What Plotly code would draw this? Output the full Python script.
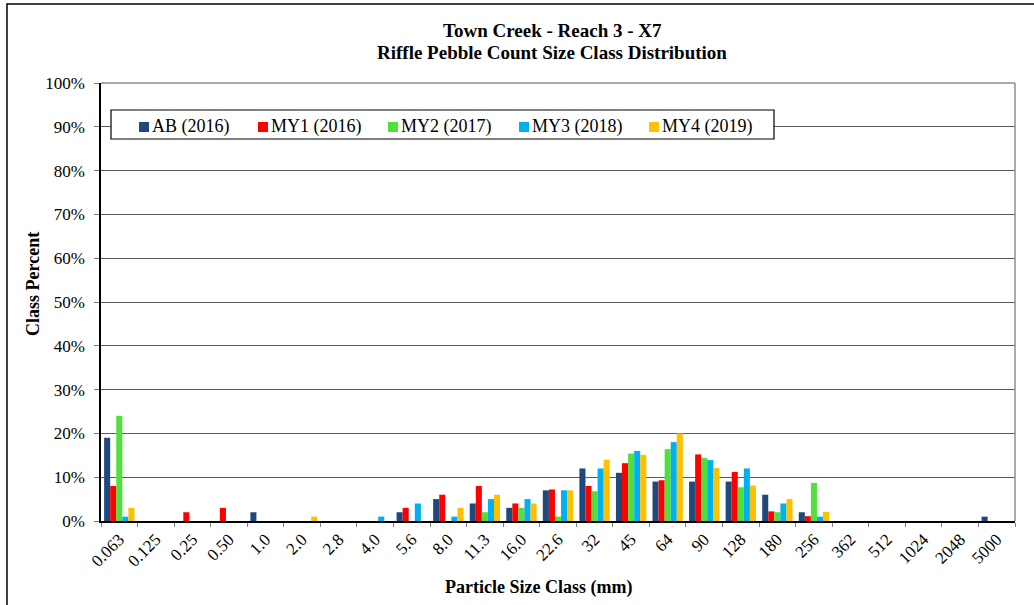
import plotly.graph_objects as go

categories = ["0.063", "0.125", "0.25", "0.50", "1.0", "2.0", "2.8", "4.0", "5.6", "8.0",
              "11.3", "16.0", "22.6", "32", "45", "64", "90", "128", "180", "256",
              "362", "512", "1024", "2048", "5000"]

ab_2016 =  [19, 0, 0, 0, 2, 0, 0, 0, 2, 5, 4, 3, 7, 12, 11, 9, 9, 9, 6, 2, 0, 0, 0, 0, 1]
my1_2016 = [8, 0, 2, 3, 0, 0, 0, 0, 3, 6, 8, 4, 7.2, 8, 13.2, 9.3, 15.2, 11.2, 2.2, 1.1, 0, 0, 0, 0, 0]
my2_2017 = [24, 0, 0, 0, 0, 0, 0, 0, 0, 0, 2, 3, 1, 6.8, 15.4, 16.4, 14.4, 7.7, 2, 8.7, 0, 0, 0, 0, 0]
my3_2018 = [1, 0, 0, 0, 0, 0, 0, 1, 4, 1, 5, 5, 7, 12, 16, 18, 13.9, 12, 4, 1, 0, 0, 0, 0, 0]
my4_2019 = [3, 0, 0, 0, 0, 1, 0, 0, 0, 3, 6, 4, 7, 14, 15.1, 20, 12.1, 8.1, 5, 2.1, 0, 0, 0, 0, 0]

series_names = ["AB (2016)", "MY1 (2016)", "MY2 (2017)", "MY3 (2018)", "MY4 (2019)"]
series_values = [ab_2016, my1_2016, my2_2017, my3_2018, my4_2019]
series_colors = ["#1F497D", "#FF0000", "#50E03C", "#00B0F0", "#FFC000"]

FONT = "Liberation Serif, Times New Roman, serif"

fig = go.Figure()
for name, vals, col in zip(series_names, series_values, series_colors):
    fig.add_trace(go.Bar(
        x=categories, y=[v / 100 for v in vals], name=name, showlegend=False,
        marker=dict(color=col, line=dict(width=0)),
    ))

L, R, T, B = 101, 19, 83, 84
W, H = 1034, 605
pw, ph = W - L - R, H - T - B

def px_x(x):
    return (x - L) / pw

def px_y(y):
    return (H - B - y) / ph

shapes = [
    dict(type="rect", xref="paper", yref="paper", x0=px_x(7), x1=px_x(1040),
         y0=px_y(612), y1=px_y(4), line=dict(color="black", width=1.5), layer="below"),
    dict(type="line", xref="paper", yref="paper", x0=1, x1=1, y0=0, y1=1,
         line=dict(color="#8C8C8C", width=1.5)),
    dict(type="line", xref="paper", yref="paper", x0=0, x1=1, y0=1, y1=1,
         line=dict(color="#8C8C8C", width=1.5)),
    # legend box
    dict(type="rect", xref="paper", yref="paper", x0=px_x(111), x1=px_x(774),
         y0=px_y(139), y1=px_y(110), fillcolor="white",
         line=dict(color="black", width=1.2), layer="above"),
]

annotations = [
    dict(text="<b>Town Creek - Reach 3 - X7</b>", xref="paper", yref="paper",
         x=px_x(552), y=px_y(30), showarrow=False, font=dict(size=19, family=FONT),
         xanchor="center", yanchor="middle"),
    dict(text="<b>Riffle Pebble Count Size Class Distribution</b>", xref="paper", yref="paper",
         x=px_x(552), y=px_y(53), showarrow=False, font=dict(size=19, family=FONT),
         xanchor="center", yanchor="middle"),
    dict(text="<b>Particle Size Class (mm)</b>", xref="paper", yref="paper",
         x=px_x(538), y=px_y(587), showarrow=False, font=dict(size=18, family=FONT),
         xanchor="center", yanchor="middle"),
    dict(text="<b>Class Percent</b>", xref="paper", yref="paper", textangle=-90,
         x=px_x(33), y=px_y(284), showarrow=False, font=dict(size=18, family=FONT),
         xanchor="center", yanchor="middle"),
]

legend_x = [139, 258, 388, 519, 649]
for name, col, lx in zip(series_names, series_colors, legend_x):
    shapes.append(dict(type="rect", xref="paper", yref="paper",
                       x0=px_x(lx), x1=px_x(lx + 10), y0=px_y(132), y1=px_y(122),
                       fillcolor=col, line=dict(width=0), layer="above"))
    annotations.append(dict(text=name, xref="paper", yref="paper",
                            x=px_x(lx + 10.5), y=px_y(126), xanchor="left", yanchor="middle",
                            showarrow=False, font=dict(size=18, family=FONT, color="black")))

fig.update_layout(
    width=W, height=H,
    margin=dict(l=L, r=R, t=T, b=B, autoexpand=False),
    paper_bgcolor="white", plot_bgcolor="white",
    font=dict(family=FONT, size=17, color="black"),
    barmode="group", bargap=0.17, bargroupgap=0,
    showlegend=False,
    annotations=annotations,
    shapes=shapes,
)

fig.update_xaxes(
    type="category", tickangle=-45, showline=True, linecolor="black", linewidth=1.5,
    ticks="outside", tickson="boundaries", ticklen=4, tickcolor="#808080",
    showgrid=False, tickfont=dict(family=FONT, size=17), automargin=False,
)
fig.update_yaxes(
    range=[0, 1], dtick=0.1, tickformat=".0%", showline=True, linecolor="black", linewidth=1.5,
    ticks="outside", ticklen=5, tickcolor="#808080", ticklabelstandoff=6,
    showgrid=True, gridcolor="#5A5A5A", gridwidth=1, zeroline=False,
    tickfont=dict(family=FONT, size=17), automargin=False,
)

fig.write_html("out.html", config={"displayModeBar": False},
               post_script="document.body.style.margin='0';")
